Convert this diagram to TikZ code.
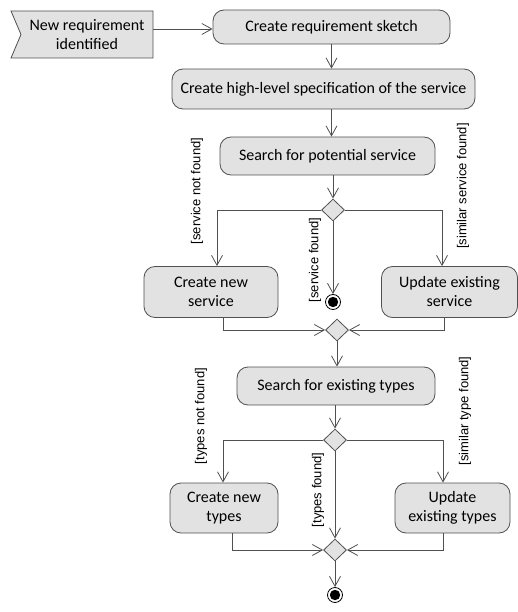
\documentclass[tikz,border=0pt]{standalone}
\usepackage{fontspec}
\usepackage{tikz}
\usetikzlibrary{arrows.meta,shapes.geometric,shapes.symbols}
\newfontfamily\boxfont{Carlito}
\newfontfamily\guardfont{Liberation Sans}
\definecolor{linegray}{HTML}{505050}
\definecolor{boxgray}{HTML}{E2E2E2}
\tikzset{
	activity/.style={draw=linegray, fill=boxgray, rounded corners=11pt, line width=0.8pt, align=center, font=\boxfont\fontsize{16}{19}\selectfont, inner sep=0pt},
	decision/.style={diamond, draw=linegray, fill=boxgray, line width=0.8pt, minimum width=23pt, minimum height=22pt, inner sep=0pt, aspect=1},
	finalnode/.style={circle, draw=black, fill=white, line width=0.8pt, minimum size=15pt, inner sep=0pt, path picture={\fill[black] (path picture bounding box.center) circle (5.2pt);}},
	guard/.style={rotate=90, font=\guardfont\fontsize{13}{15}\selectfont, inner sep=0pt},
	flow/.style={draw=linegray, line width=0.8pt, -{Straight Barb[length=10pt, width=11pt, line width=0.8pt]}},
	plain/.style={draw=linegray, line width=0.8pt}
}

\begin{document}
\begin{tikzpicture}[x=1pt, y=-1pt]
		%%%%% START %%%%%
		\useasboundingbox (0, 0) rectangle (518, 612);
		
		\node[signal, signal to=nowhere, signal from=west, signal pointer angle=134, draw=linegray, fill=boxgray, line width=0.8pt, minimum width=142pt, minimum height=47pt, inner sep=0pt, align=center, font=\boxfont\fontsize{16}{19}\selectfont] (flag) at (87, 34.5) {New requirement\\identified};
		
		\node[activity, minimum width=237pt, minimum height=34pt] (sketch) at (331.5, 27) {Create requirement sketch};
		\node[activity, minimum width=303pt, minimum height=40pt] (spec) at (323.5, 89) {Create high-level specification of the service};
		\node[activity, minimum width=215pt, minimum height=38pt] (searchsvc) at (327.5, 156) {Search for potential service};
		
		\node[decision] (d1) at (333, 210) {};
		\node[activity, minimum width=134pt, minimum height=51pt] (newsvc) at (211, 292) {Create new\\service};
		\node[activity, minimum width=136pt, minimum height=51pt] (updsvc) at (449.5, 292) {Update existing\\service};
		\node[finalnode] (end1) at (333, 302) {};
		\node[decision] (d2) at (337, 330) {};
		
		\node[activity, minimum width=198pt, minimum height=38pt] (searchtypes) at (336, 386) {Search for existing types};
		
		\node[decision] (d3) at (335, 440) {};
		\node[activity, minimum width=108pt, minimum height=50pt] (newtypes) at (224, 508) {Create new\\types};
		\node[activity, minimum width=115pt, minimum height=50pt] (updtypes) at (452.5, 508) {Update\\existing types};
		\node[decision] (d4) at (335, 550) {};
		\node[finalnode] (end2) at (335, 595) {};
		
		% guards
		\node[guard] (g1) at (197, 191) {[service not found]};
		\node[guard] (g2) at (315, 260) {[service found]};
		\node[guard] (g3) at (463, 186) {[similar service found]};
		\node[guard] (g4) at (201, 416) {[types not found]};
		\node[guard] (g5) at (318, 490) {[types found]};
		\node[guard] (g6) at (465, 411) {[similar type found]};
		
		% flows
		\draw[flow] (flag.east |- 0, 29) -- (sketch.west |- 0, 29);
		\draw[flow] (sketch.south) -- (sketch.south |- spec.north);
		\draw[flow] (spec.south -| sketch.south) -- (searchsvc.north -| sketch.south);
		\draw[flow] (d1.north |- searchsvc.south) -- (d1.north);
		
		\draw[flow] (d1.west) -| ([xshift=6pt]newsvc.north);
		\draw[flow] (d1.east) -| ([xshift=-7.5pt]updsvc.north);
		\draw[flow] (d1.south) -- (end1.north);
		\draw[flow] ([xshift=12pt]newsvc.south) |- (d2.west);
		\draw[flow] ([xshift=-5.5pt]updsvc.south) |- (d2.east);
		\draw[flow] (d2.south) -- (d2.south |- searchtypes.north);
		
		\draw[flow] (d3.north |- searchtypes.south) -- (d3.north);
		\draw[flow] (d3.west) -| ([xshift=-1pt]newtypes.north);
		\draw[flow] (d3.east) -| ([xshift=-9.5pt]updtypes.north);
		\draw[flow] (d3.south) -- (d4.north);
		\draw[flow] ([xshift=8pt]newtypes.south) |- (d4.west);
		\draw[flow] ([xshift=-9.5pt]updtypes.south) |- (d4.east);
		\draw[flow] (d4.south) -- (end2.north);
		%%%%% END %%%%%
	\end{tikzpicture}
\end{document}
